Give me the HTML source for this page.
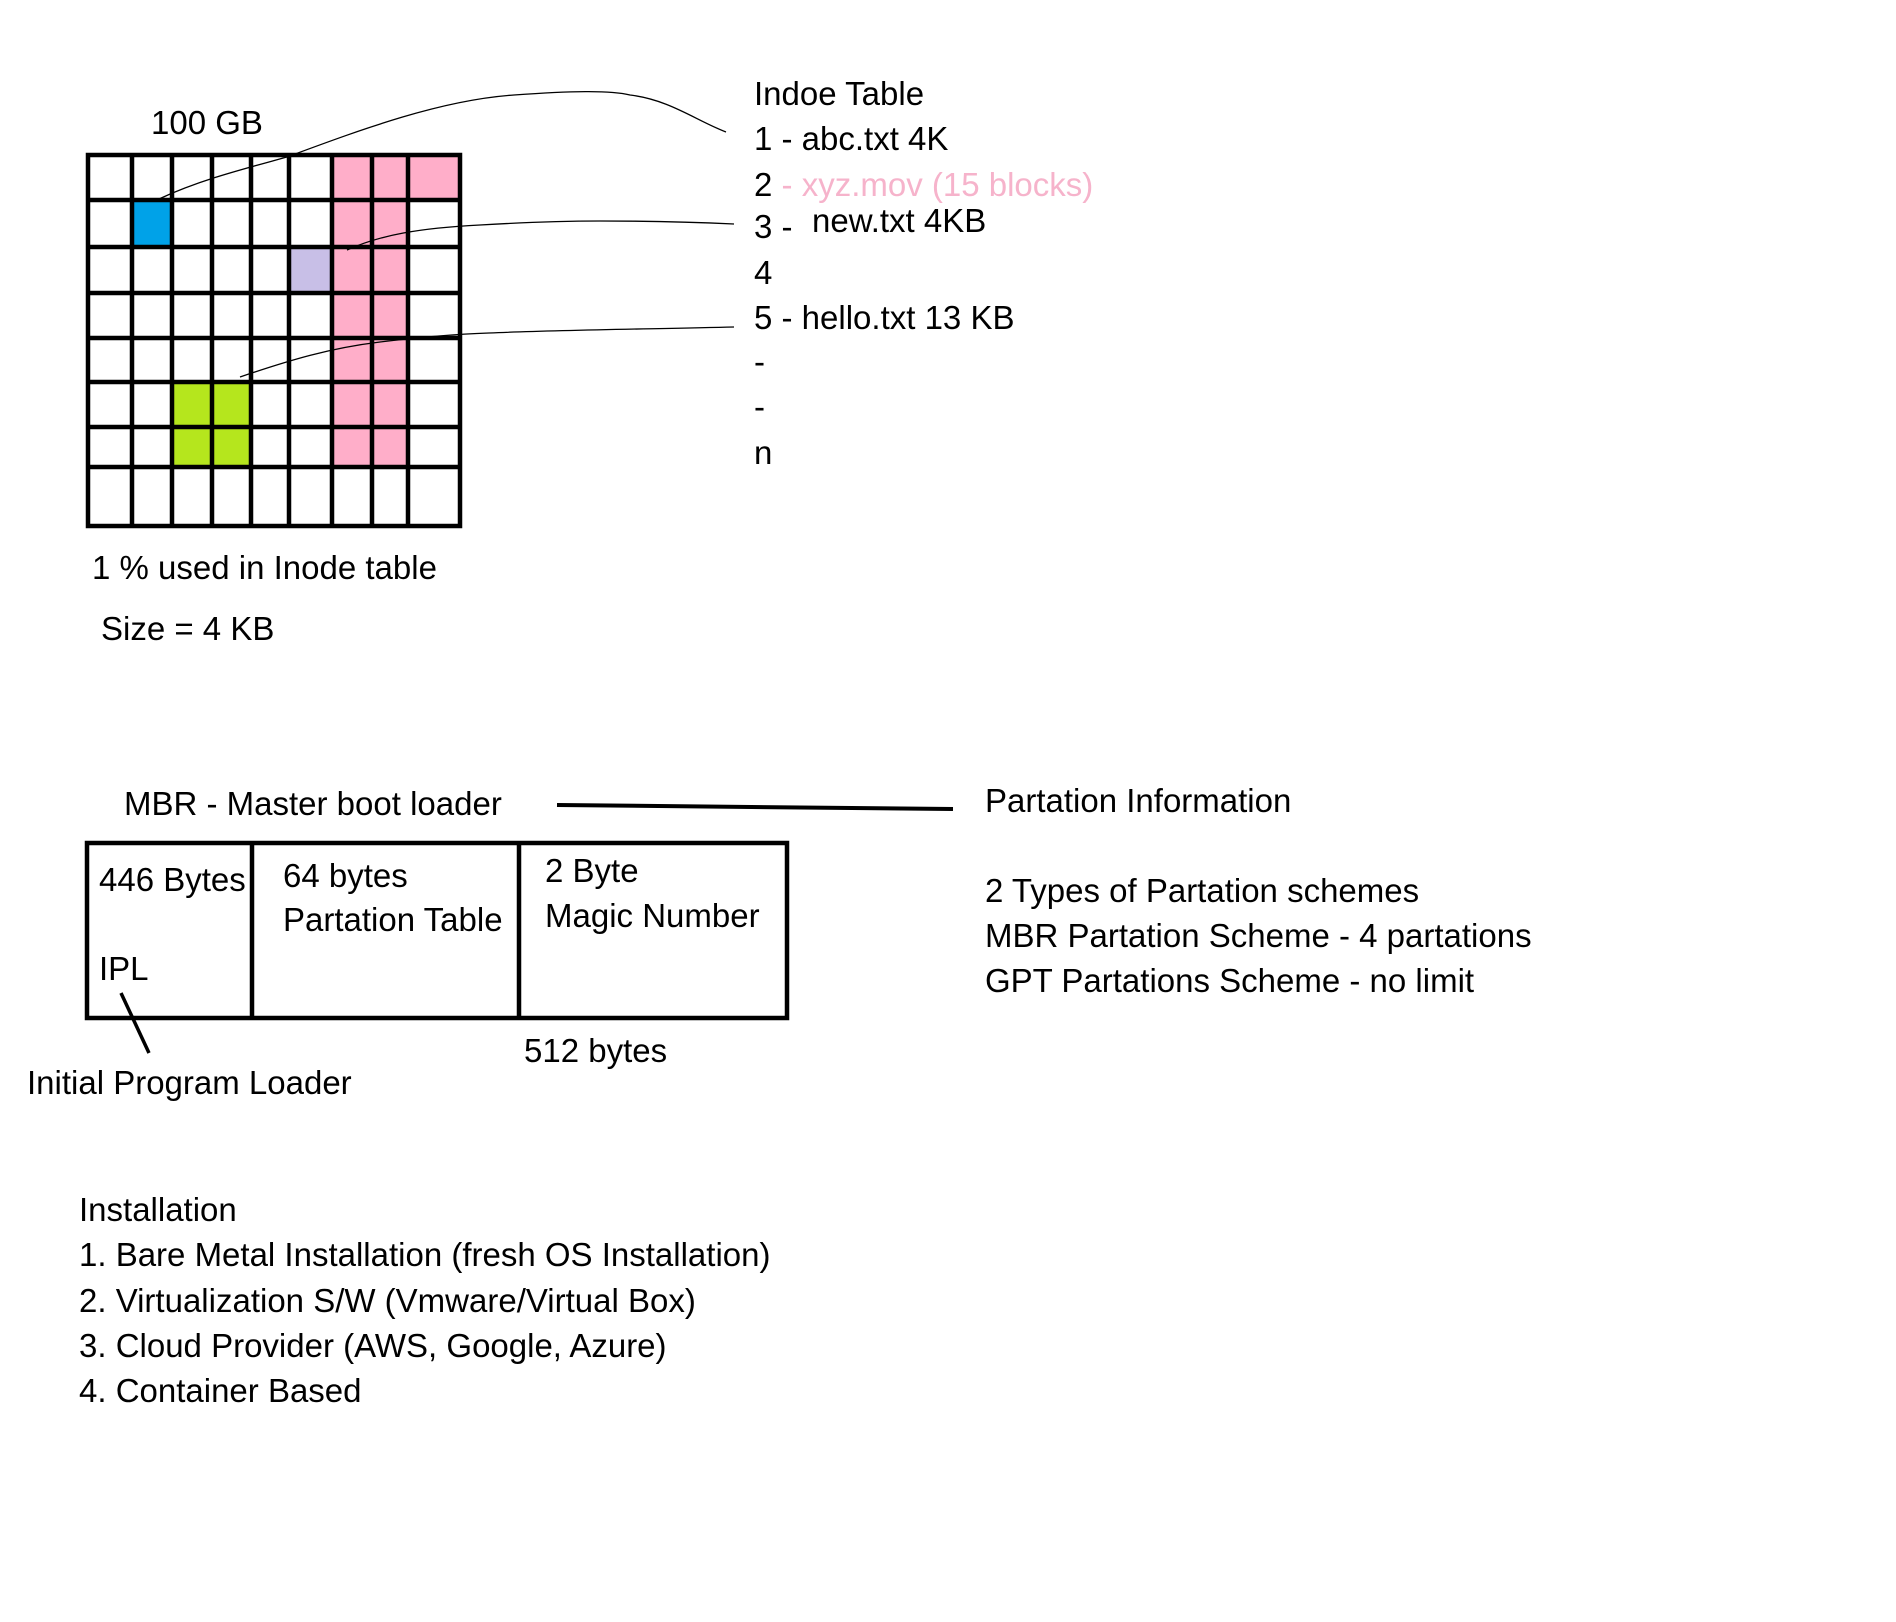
<!DOCTYPE html>
<html><head><meta charset="utf-8"><style>
html,body{margin:0;padding:0;background:#fff}
svg{display:block}
text{font-family:"Liberation Sans",sans-serif;font-size:33px;fill:#000}
</style></head><body>
<svg width="1896" height="1622" viewBox="0 0 1896 1622" xmlns="http://www.w3.org/2000/svg">
<rect width="1896" height="1622" fill="#fff"/>
<g>
<rect x="132" y="200" width="40" height="47" fill="#00a2e8"/>
<rect x="289" y="247" width="43" height="46" fill="#c8bfe7"/>
<rect x="332" y="155" width="40" height="312" fill="#ffaec9"/>
<rect x="372" y="155" width="36" height="312" fill="#ffaec9"/>
<rect x="408" y="155" width="52" height="45" fill="#ffaec9"/>
<rect x="172" y="382" width="80" height="85" fill="#b5e61d"/>
</g>
<g stroke="#000" stroke-width="4.5" fill="none">
<rect x="88" y="155" width="372" height="371"/>
<line x1="132" y1="155" x2="132" y2="526"/>
<line x1="172" y1="155" x2="172" y2="526"/>
<line x1="212" y1="155" x2="212" y2="526"/>
<line x1="251" y1="155" x2="251" y2="526"/>
<line x1="289" y1="155" x2="289" y2="526"/>
<line x1="332" y1="155" x2="332" y2="526"/>
<line x1="372" y1="155" x2="372" y2="526"/>
<line x1="408" y1="155" x2="408" y2="526"/>
<line x1="88" y1="200" x2="460" y2="200"/>
<line x1="88" y1="247" x2="460" y2="247"/>
<line x1="88" y1="293" x2="460" y2="293"/>
<line x1="88" y1="338" x2="460" y2="338"/>
<line x1="88" y1="382" x2="460" y2="382"/>
<line x1="88" y1="427" x2="460" y2="427"/>
<line x1="88" y1="467" x2="460" y2="467"/>
</g>
<g stroke="#000" stroke-width="1.3" fill="none">
<path d="M159,199 C200,180 240,170 287,157 C360,130 440,100 514,95 C570,91 610,90 630,95 C670,100 695,120 726,132"/>
<path d="M347,250 C380,235 420,228 480,225 C530,222 560,221 600,221 C650,221 690,222 734,224"/>
<path d="M240,377 C290,360 330,348 380,342 C430,336 460,334 489,333 C560,330 650,329 734,327"/>
</g>
<text x="151" y="134">100 GB</text>
<text x="754" y="105">Indoe Table</text>
<text x="754" y="150">1 - abc.txt  4K</text>
<text x="754" y="196">2 <tspan fill="#f6b3cb">- xyz.mov  (15 blocks)</tspan></text>
<text x="754" y="238">3 -</text>
<text x="812" y="232">new.txt 4KB</text>
<text x="754" y="284">4</text>
<text x="754" y="329">5 - hello.txt  13 KB</text>
<text x="754" y="373">-</text>
<text x="754" y="418">-</text>
<text x="754" y="464">n</text>
<text x="92" y="579">1 % used in Inode table</text>
<text x="101" y="640">Size = 4 KB</text>
<text x="124" y="815">MBR - Master boot loader</text>
<line x1="557" y1="805" x2="953" y2="809" stroke="#000" stroke-width="4"/>
<text x="985" y="812">Partation Information</text>
<text x="985" y="902">2 Types of Partation schemes</text>
<text x="985" y="947">MBR Partation Scheme - 4 partations</text>
<text x="985" y="992">GPT Partations Scheme - no limit</text>
<g stroke="#000" stroke-width="4.5" fill="none">
<rect x="87" y="843" width="700" height="175"/>
<line x1="252" y1="843" x2="252" y2="1018"/>
<line x1="519" y1="843" x2="519" y2="1018"/>
</g>
<text x="99" y="891">446 Bytes</text>
<text x="283" y="887">64 bytes</text>
<text x="283" y="931">Partation Table</text>
<text x="545" y="882">2 Byte</text>
<text x="545" y="927">Magic Number</text>
<text x="99" y="980">IPL</text>
<line x1="121" y1="993" x2="149" y2="1053" stroke="#000" stroke-width="3.5"/>
<text x="27" y="1094">Initial Program Loader</text>
<text x="524" y="1062">512 bytes</text>
<text x="79" y="1221">Installation</text>
<text x="79" y="1266">1. Bare Metal Installation (fresh OS Installation)</text>
<text x="79" y="1312">2. Virtualization S/W  (Vmware/Virtual Box)</text>
<text x="79" y="1357">3. Cloud Provider (AWS, Google, Azure)</text>
<text x="79" y="1402">4. Container Based</text>
</svg>
</body></html>
